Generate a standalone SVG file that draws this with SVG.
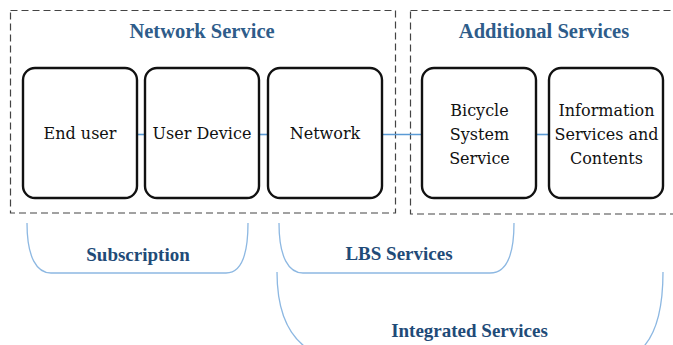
<svg xmlns="http://www.w3.org/2000/svg" width="673" height="345" viewBox="0 0 673 345">
  <style>
    .zone { fill: none; stroke: #444; stroke-width: 1.2; stroke-dasharray: 7 4; }
    .box { fill: #fff; stroke: #111; stroke-width: 2.4; }
    .scope { fill: none; stroke: #8DB8E2; stroke-width: 1.3; }
    .link { stroke: #5B9BD5; stroke-width: 1.6; fill: none; }
  </style>

  <!-- service zones -->
  <g font-family="Liberation Serif, serif" font-weight="bold" font-size="20.5" fill="#2E5C8A" text-anchor="middle">
    <g id="network-service">
      <rect class="zone" x="10.5" y="10.5" width="385" height="202.5"/>
      <text x="202" y="38">Network Service</text>
    </g>
    <g id="additional-services">
      <rect class="zone" x="410.5" y="10.5" width="268" height="203.5"/>
      <text x="544" y="38">Additional Services</text>
    </g>
  </g>

  <!-- connectors between nodes -->
  <g id="connectors">
    <line class="link" x1="137" y1="134.5" x2="145" y2="134.5"/>
    <line class="link" x1="259" y1="134.5" x2="268" y2="134.5"/>
    <line class="link" x1="382" y1="134.5" x2="422" y2="134.5"/>
    <line class="link" x1="536" y1="134.5" x2="549" y2="134.5"/>
  </g>

  <!-- nodes -->
  <g font-family="DejaVu Serif, serif" font-size="16" fill="#111" text-anchor="middle">
    <g id="end-user">
      <rect class="box" x="23" y="68" width="114" height="130" rx="12"/>
      <text x="80" y="139">End user</text>
    </g>
    <g id="user-device">
      <rect class="box" x="145" y="68" width="114" height="130" rx="12"/>
      <text x="202" y="139">User Device</text>
    </g>
    <g id="network">
      <rect class="box" x="268" y="68" width="114" height="130" rx="12"/>
      <text x="325" y="139">Network</text>
    </g>
    <g id="bicycle-system-service">
      <rect class="box" x="422" y="68" width="114" height="130" rx="12"/>
      <text x="479.5" y="115.5">Bicycle</text>
      <text x="479.5" y="139.5">System</text>
      <text x="479.5" y="163.5">Service</text>
    </g>
    <g id="information-services">
      <rect class="box" x="549" y="68" width="114" height="130" rx="12"/>
      <text x="606.5" y="115.5">Information</text>
      <text x="606.5" y="139.5">Services and</text>
      <text x="606.5" y="163.5">Contents</text>
    </g>
  </g>

  <!-- service scope brackets -->
  <g font-family="Liberation Serif, serif" font-weight="bold" font-size="19" fill="#1F4B78" text-anchor="middle">
    <g id="subscription">
      <path class="scope" d="M27,223 C27,258 37,273 51,273 L226,273 C240,273 248,258 248,223"/>
      <text x="138" y="261">Subscription</text>
    </g>
    <g id="lbs-services">
      <path class="scope" d="M279,223 C279,258 289,273 303,273 L490,273 C505,273 514,258 514,223"/>
      <text x="399" y="260">LBS Services</text>
    </g>
    <g id="integrated-services">
      <path class="scope" d="M277,272 C277,318 292,345 322,356 L632,356 C652,345 663,318 663,272"/>
      <text x="469.5" y="337">Integrated Services</text>
    </g>
  </g>
</svg>
